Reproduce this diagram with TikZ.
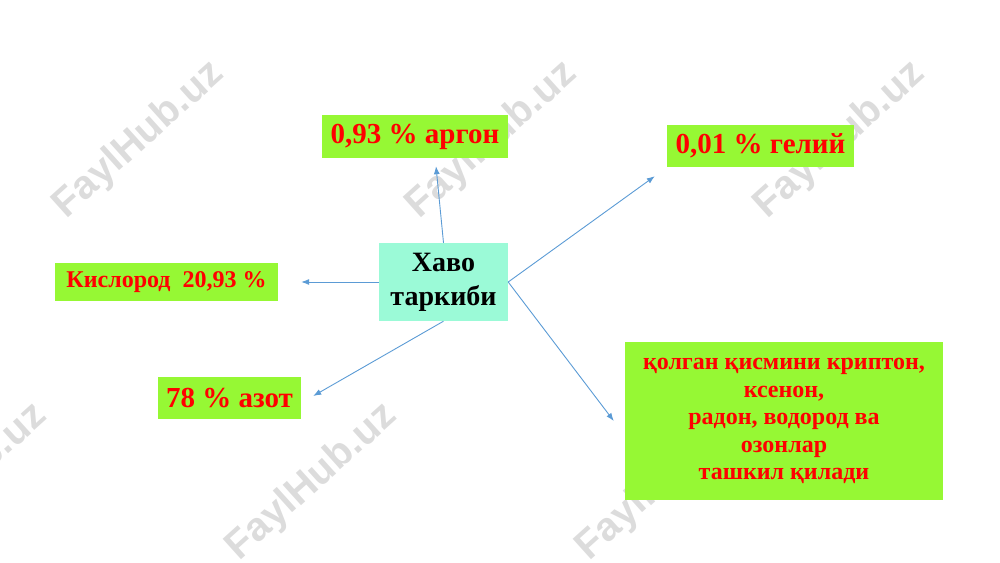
\documentclass[tikz,border=0pt]{standalone}
\usepackage{fontspec}
\setmainfont{Liberation Serif}
\newfontfamily\wmfont{Liberation Sans}
\usepackage{tikz}
\usetikzlibrary{arrows.meta}
\definecolor{ggg}{RGB}{150,248,52}
\definecolor{aqu}{RGB}{155,250,215}
\definecolor{arr}{RGB}{91,155,213}
\definecolor{wmk}{RGB}{220,220,220}
\tikzstyle{g}=[fill=ggg,text=red,inner sep=0pt,align=center]
\tikzstyle{h}=[fill=aqu,inner sep=0pt,align=center,font=\bfseries\fontsize{28}{34}\selectfont]
\tikzstyle{e}=[draw=arr,line width=0.9pt,-{Latex[length=8pt,width=6pt]}]
\tikzstyle{w}=[text=wmk,font=\wmfont\bfseries\fontsize{40}{40}\selectfont,rotate=42]

\begin{document}
\begin{tikzpicture}[x=1pt,y=-1pt]
	\useasboundingbox (0,0) rectangle (1000,562);
	% watermark
	\foreach \x/\y [count=\i] in {139/140,492/140,840/140,-38/482,312/482,662/482}
		\node[w] (wm\i) at (\x,\y) {FaylHub.uz};
	% boxes
	\node[h,minimum width=129pt,minimum height=78pt] (hub) at (443.5,282) {Хаво\\таркиби};
	\node[g,minimum width=186pt,minimum height=43pt,font=\bfseries\fontsize{29}{34}\selectfont] (argon) at (415,136.5) {0,93 \% аргон};
	\node[g,minimum width=187pt,minimum height=42pt,font=\bfseries\fontsize{29}{34}\selectfont] (helium) at (760.5,146) {0,01 \% гелий};
	\node[g,minimum width=223pt,minimum height=38pt,font=\bfseries\fontsize{24}{28}\selectfont] (oxygen) at (166.5,282) {Кислород\ \ 20,93 \%};
	\node[g,minimum width=143pt,minimum height=42pt,font=\bfseries\fontsize{29}{34}\selectfont] (nitrogen) at (229.5,398) {78 \% азот};
	\node[g,minimum width=318pt,minimum height=158pt,font=\bfseries\fontsize{24}{27.5}\selectfont] (rest) at (784,421)
		{қолган қисмини криптон,\\ксенон,\\радон, водород ва\\озонлар\\ташкил қилади};
	% arrows
	\draw[e] (hub.north) -- ([xshift=21pt,yshift=-8pt]argon.south);
	\draw[e] (hub.east) -- ([xshift=-12pt,yshift=-9pt]helium.south west);
	\draw[e] (hub.west) -- ([xshift=23pt]oxygen.east);
	\draw[e] (hub.south) -- ([xshift=12pt,yshift=2pt]nitrogen.east);
	\draw[e] (hub.east) -- ([xshift=-11pt]rest.west);
\end{tikzpicture}
\end{document}
